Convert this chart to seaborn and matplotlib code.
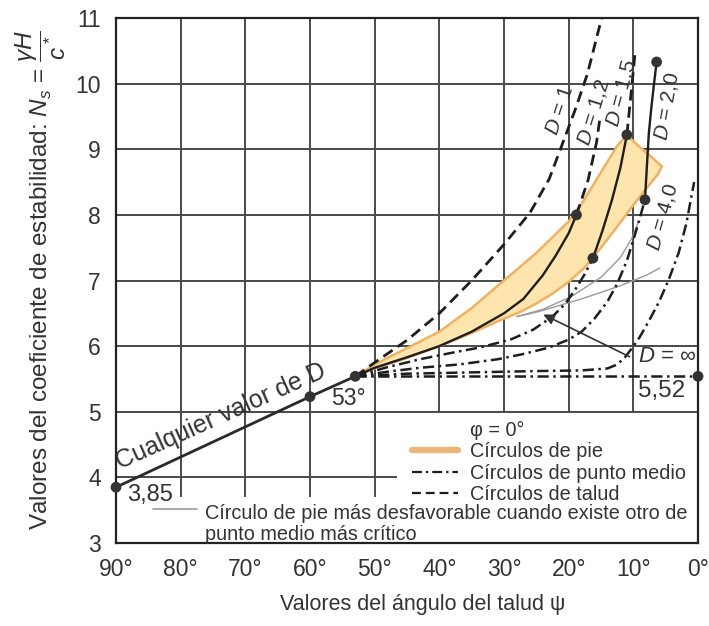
import matplotlib
matplotlib.use("Agg")
import matplotlib.pyplot as plt
import seaborn as sns
from matplotlib.lines import Line2D
from matplotlib.patches import Rectangle

sns.set_style("white")
plt.rcParams['font.family'] = ['Liberation Sans', 'DejaVu Sans']
plt.rcParams['mathtext.fontset'] = 'custom'
plt.rcParams['mathtext.rm'] = 'Liberation Sans'
plt.rcParams['mathtext.it'] = 'Liberation Sans:italic'
plt.rcParams['mathtext.bf'] = 'Liberation Sans:bold'

# ---------------- data ----------------
x_tick_values = [90, 80, 70, 60, 50, 40, 30, 20, 10, 0]
x_tick_labels = ["90°", "80°", "70°", "60°", "50°", "40°", "30°", "20°", "10°", "0°"]
y_tick_values = [3, 4, 5, 6, 7, 8, 9, 10, 11]

# any value of D (toe circles, beta > 53)
any_x = [90, 60, 53]
any_y = [3.85, 5.23, 5.54]

# toe-circle zone (band)
band_upper_x = [53, 50, 45, 40, 35, 30, 25, 20, 18, 15, 12.5, 11, 10, 8, 6.5, 5.6]
band_upper_y = [5.54, 5.72, 5.97, 6.22, 6.58, 7.0, 7.42, 7.9, 8.17, 8.65, 9.05, 9.22, 9.12, 8.95, 8.82, 8.74]
band_lower_x = [5.6, 6.2, 8, 10, 12.5, 15, 17.5, 20, 22.5, 25, 27.5, 30, 35, 40, 45, 50, 53]
band_lower_y = [8.74, 8.62, 8.4, 8.15, 7.82, 7.5, 7.2, 6.98, 6.8, 6.65, 6.52, 6.42, 6.2, 6.0, 5.82, 5.66, 5.54]

# solid toe-circle curves
toe_d12_x = [53, 50, 45, 40, 35, 30, 27, 24, 22, 20, 18.8]
toe_d12_y = [5.54, 5.67, 5.83, 6.0, 6.22, 6.5, 6.72, 7.08, 7.38, 7.72, 8.0]
toe_d15_x = [16.25, 14.8, 13.3, 12, 11]
toe_d15_y = [7.34, 7.75, 8.23, 8.72, 9.22]
toe_d20_x = [8.2, 7.9, 7.6, 7.2, 6.8, 6.4]
toe_d20_y = [8.23, 8.75, 9.25, 9.65, 10.0, 10.33]

# slope circles (dashed)
slope_d10_x = [53, 50, 45, 40, 35, 30, 26, 23, 20.9, 19, 17.1, 14.9]
slope_d10_y = [5.54, 5.75, 6.09, 6.5, 7.0, 7.55, 8.03, 8.55, 9.1, 9.6, 10.15, 11.0]
slope_d12_x = [18.8, 17.0, 15.7, 15.2]
slope_d12_y = [8.0, 8.53, 9.1, 9.45]
slope_d15_x = [11, 10.3, 9.7]
slope_d15_y = [9.22, 9.9, 10.5]

# midpoint circles (dash-dot)
mid_d15_x = [53, 48, 43, 38, 33.7, 29, 25.5, 22.5, 20.5, 19, 17.5, 16.25]
mid_d15_y = [5.54, 5.68, 5.8, 5.9, 5.98, 6.1, 6.25, 6.45, 6.65, 6.86, 7.1, 7.34]
mid_d20_x = [53, 48, 43, 37, 31, 27, 23, 20, 18, 16, 14, 12.5, 11, 9.5, 8.2]
mid_d20_y = [5.54, 5.61, 5.67, 5.72, 5.8, 5.88, 5.98, 6.1, 6.22, 6.42, 6.68, 6.95, 7.3, 7.78, 8.23]
mid_d40_x = [53, 45, 35, 25, 18, 14, 12.5, 11.3, 10.2, 9, 7.5, 6, 4.5, 3, 1.8, 0.6]
mid_d40_y = [5.54, 5.58, 5.6, 5.62, 5.63, 5.66, 5.72, 5.83, 5.97, 6.14, 6.4, 6.68, 7.02, 7.42, 7.87, 8.5]
mid_dinf_x = [53, 0]
mid_dinf_y = [5.54, 5.54]

# most unfavourable toe circles (thin gray)
gray1_x = [28, 24.5, 18, 12, 8, 5.9]
gray1_y = [6.45, 6.53, 6.72, 6.92, 7.08, 7.19]
gray2_x = [28, 24, 19.5, 15, 12, 10.2, 9.2]
gray2_y = [6.45, 6.56, 6.76, 7.05, 7.35, 7.65, 7.9]

# marked points
dot_x = [90, 60, 53, 0, 18.8, 16.25, 11, 8.2, 6.4]
dot_y = [3.85, 5.23, 5.54, 5.54, 8.0, 7.34, 9.22, 8.23, 10.33]

# ---------------- figure ----------------
INK = '#1e1e1e'
TXT = '#333333'
GRID = '#4a4a4a'
DASH = (0, (4, 2.2))
DASHDOT = (0, (4.5, 1.8, 1, 1.8))

fig = plt.figure(figsize=(7.09, 6.26), dpi=100)
ax = fig.add_axes([0.1636, 0.1326, 0.8209, 0.8386])
ax.set_xlim(90, 0)
ax.set_ylim(3, 11)
ax.set_axisbelow(True)
ax.grid(True, color=GRID, lw=1.4)
for s in ax.spines.values():
    s.set_color('#222222')
    s.set_linewidth(1.6)

# white areas hiding the grid behind legend / footnote
ax.add_patch(Rectangle((46.5, 3), -46.5, 2.0, facecolor='white', edgecolor='none', zorder=1.2))
ax.add_patch(Rectangle((84.5, 3), -84.5, 0.7, facecolor='white', edgecolor='none', zorder=1.2))
ax.axhline(5, color=GRID, lw=1.4, zorder=1.3)

# toe-circle band
ax.fill(band_upper_x + band_lower_x, band_upper_y + band_lower_y,
        facecolor='#fde5ad', edgecolor='#f0b262', lw=1.8, zorder=2)


def curve(x, y, ls='-', lw=1.8, color=INK, z=3):
    sns.lineplot(x=x, y=y, sort=False, estimator=None, ax=ax, color=color,
                 linestyle=ls, linewidth=lw, zorder=z)


curve(any_x, any_y, '-', 2.0, '#2a2a2a')
curve(toe_d12_x, toe_d12_y, '-', 1.7)
curve(toe_d15_x, toe_d15_y, '-', 1.7)
curve(toe_d20_x, toe_d20_y, '-', 1.7)
curve(slope_d10_x, slope_d10_y, DASH, 2.0)
curve(slope_d12_x, slope_d12_y, DASH, 2.0)
curve(slope_d15_x, slope_d15_y, DASH, 2.0)
curve(mid_d15_x, mid_d15_y, DASHDOT, 1.8)
curve(mid_d20_x, mid_d20_y, DASHDOT, 1.8)
curve(mid_d40_x, mid_d40_y, DASHDOT, 1.8)
curve(mid_dinf_x, mid_dinf_y, DASHDOT, 1.8)
curve(gray1_x, gray1_y, '-', 1.0, '#9a9a9a', 2.5)
curve(gray2_x, gray2_y, '-', 1.0, '#9a9a9a', 2.5)

sns.scatterplot(x=dot_x, y=dot_y, color='#333333', s=60, edgecolor='none',
                zorder=6, ax=ax, clip_on=False)

# arrow for D = infinity
ax.annotate('', xy=(24.3, 6.5), xytext=(10.2, 5.82),
            arrowprops=dict(arrowstyle='-|>', color='#333333', lw=1.2, mutation_scale=16),
            zorder=5)

# texts
ax.text(73.8, 4.93, "Cualquier valor de D", rotation=24.2, fontsize=18, color=TXT,
        ha='center', va='center', rotation_mode='anchor')
ax.text(84.7, 3.73, "3,85", fontsize=17, color=TXT, ha='center', va='center')
ax.text(54.0, 5.2, "53°", fontsize=16.5, color=TXT, ha='center', va='center')
ax.text(5.6, 5.32, "5,52", fontsize=17.5, color=TXT, ha='center', va='center')
ax.text(4.7, 5.84, "$D$ = ∞", fontsize=16, color=TXT, ha='center', va='center')

for lab, lx, ly, rot in [("$D$ = 1", 21.4, 9.6, 71.5),
                         ("$D$ = 1,2", 16.1, 9.57, 72.5),
                         ("$D$ = 1,5", 11.8, 9.86, 75),
                         ("$D$ = 2,0", 4.8, 9.65, 80),
                         ("$D$ = 4,0", 5.5, 7.97, 74)]:
    ax.text(lx, ly, lab, rotation=rot, fontsize=15, color=TXT, ha='center', va='center',
            rotation_mode='anchor')

# legend
handles = [Line2D([], [], color='none', label='φ = 0°'),
           Line2D([], [], color='#e9b676', lw=4.5, label='Círculos de pie'),
           Line2D([], [], color=INK, lw=1.6, ls=DASHDOT, label='Círculos de punto medio'),
           Line2D([], [], color=INK, lw=1.6, ls=DASH, label='Círculos de talud')]
leg = ax.legend(handles=handles, loc='upper left', bbox_to_anchor=(0.5086, 0.233),
                frameon=False, fontsize=14.3, handlelength=2.3, handletextpad=0.6,
                labelspacing=0.12, borderpad=0, borderaxespad=0)
for t in leg.get_texts():
    t.set_color(TXT)

# footnote
ax.plot([0.0636, 0.139], [0.065, 0.065], transform=ax.transAxes, color='#9a9a9a', lw=1.2,
        zorder=4)
ax.text(0.153, 0.0745, "Círculo de pie más desfavorable cuando existe otro de\npunto medio más crítico",
        transform=ax.transAxes, fontsize=14.3, color=TXT, ha='left', va='top', linespacing=1.15,
        zorder=4)

# axes ticks/labels
ax.set_xticks(x_tick_values)
ax.set_xticklabels(x_tick_labels)
ax.set_yticks(y_tick_values)
ax.tick_params(axis='both', length=0, labelsize=16.5, pad=11, labelcolor=TXT)
ax.set_xlabel("Valores del ángulo del talud ψ", fontsize=15.5, color=TXT)
ax.xaxis.set_label_coords(0.527, -0.097)
ax.set_ylabel(r"Valores del coeficiente de estabilidad: $N_s$ = $\dfrac{\gamma H}{c^*}$",
              fontsize=17.5, color=TXT)
ax.yaxis.set_label_coords(-0.083, 0.5)

fig.savefig("out.png", dpi=100)
